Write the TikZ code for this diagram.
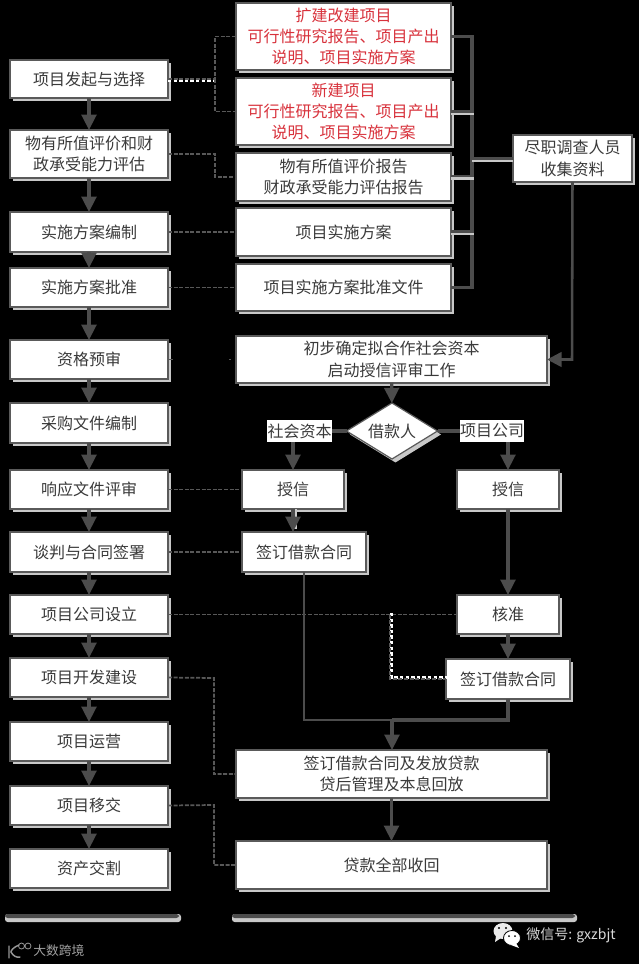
\documentclass[tikz,border=0pt]{standalone}
\usepackage{fontspec}
\setmainfont{Noto Sans CJK SC}
\usetikzlibrary{arrows.meta,shapes.geometric,shadows}
\tikzset{
  x=0.75pt,y=-0.75pt,
  flowbox/.style={draw=boxedge,line width=0.9pt,fill=white,inner sep=0pt,outer sep=0pt,align=center,text=boxtext,
    font=\fontsize{12}{16}\selectfont,
    copy shadow={shadow xshift=2.6pt,shadow yshift=-2.6pt,fill=shadowgrey,draw=none}},
  tagbox/.style={fill=white,inner sep=0pt,outer sep=0pt,text=boxtext,font=\fontsize{12}{16}\selectfont},
  flowline/.style={draw=linegrey,line width=2.4pt},
  flowarrow/.style={flowline,-{Triangle[length=11.5pt,width=11pt]}},
  thinline/.style={draw=linegrey,line width=1.9pt},
  linkdash/.style={draw=dashgrey,line width=1.3pt,dash pattern=on 3pt off 1.2pt},
  glow/.style={draw=shadowgrey,line width=1.8pt},
  whitedots/.style={draw=white,line width=2pt,dash pattern=on 2.6pt off 1.6pt},
  redtext/.style={text=redink},
}
\definecolor{boxedge}{HTML}{5A5A5A}
\definecolor{boxtext}{HTML}{3A3A3A}
\definecolor{shadowgrey}{HTML}{C8C8C8}
\definecolor{linegrey}{HTML}{4C4C4C}
\definecolor{dashgrey}{HTML}{585858}
\definecolor{redink}{HTML}{D8323C}
\newcommand{\boxat}[7][]{\node[flowbox,#1,minimum width={(#5-#3)*0.75pt},minimum height={(#6-#4)*0.75pt}] (#2) at ({(#3+#5)/2},{(#4+#6)/2}) {#7};}
\begin{document}
\begin{tikzpicture}
\fill[black] (0,0) rectangle (639,964);
\useasboundingbox (0,0) rectangle (639,964);
% left column
\boxat{La}{10}{60}{168}{98}{项目发起与选择}
\boxat{Lb}{10}{130}{168}{178}{物有所值评价和财\\政承受能力评估}
\boxat{Lc}{10}{212}{168}{252}{实施方案编制}
\boxat{Ld}{10}{268}{168}{307}{实施方案批准}
\boxat{Le}{10}{340}{168}{379}{资格预审}
\boxat{Lf}{10}{403}{168}{443}{采购文件编制}
\boxat{Lg}{10}{470}{168}{509}{响应文件评审}
\boxat{Lh}{10}{532}{168}{572}{谈判与合同签署}
\boxat{Li}{10}{595}{168}{634}{项目公司设立}
\boxat{Lj}{10}{658}{168}{697}{项目开发建设}
\boxat{Lk}{10}{722}{168}{761}{项目运营}
\boxat{Ll}{10}{786}{168}{825}{项目移交}
\boxat{Lm}{10}{849}{168}{888}{资产交割}
% right documents
\boxat[redtext]{Ra}{236}{3}{451}{70}{扩建改建项目\\可行性研究报告、项目产出\\说明、项目实施方案}
\boxat[redtext]{Rb}{236}{78}{451}{145}{新建项目\\可行性研究报告、项目产出\\说明、项目实施方案}
\boxat{Rc}{236}{153}{451}{201}{物有所值评价报告\\财政承受能力评估报告}
\boxat{Rd}{236}{208}{451}{256}{项目实施方案}
\boxat{Re}{236}{264}{451}{311}{项目实施方案批准文件}
\boxat{Dd}{513}{135}{632}{182}{尽职调查人员\\收集资料}
\boxat{Rf}{236}{336}{547}{383}{初步确定拟合作社会资本\\启动授信评审工作}
\node[flowbox,diamond,aspect=1.625,minimum width=68.25pt,minimum height=42pt] (Bw) at (392,431) {借款人};
\node[tagbox,minimum width=48.75pt,minimum height=16.5pt] (Ts) at (299.5,431) {社会资本};
\node[tagbox,minimum width=48pt,minimum height=16.5pt] (Tp) at (492,431) {项目公司};
\boxat{Sa}{242}{470}{344}{509}{授信}
\boxat{Pa}{457}{470}{559}{509}{授信}
\boxat{Sb}{242}{532}{366}{572}{签订借款合同}
\boxat{Pb}{457}{595}{559}{634}{核准}
\boxat{Pc}{446}{659}{570}{699}{签订借款合同}
\boxat{Ln}{236}{750}{547}{798}{签订借款合同及发放贷款\\贷后管理及本息回放}
\boxat{Rp}{236}{841}{547}{889}{贷款全部收回}
% left column arrows
\draw[flowarrow] (La) -- (Lb);
\draw[flowarrow] (Lb) -- (Lc);
\draw[flowarrow] (Lc) -- (Ld);
\draw[flowarrow] (Ld) -- (Le);
\draw[flowarrow] (Le) -- (Lf);
\draw[flowarrow] (Lf) -- (Lg);
\draw[flowarrow] (Lg) -- (Lh);
\draw[flowarrow] (Lh) -- (Li);
\draw[flowarrow] (Li) -- (Lj);
\draw[flowarrow] (Lj) -- (Lk);
\draw[flowarrow] (Lk) -- (Ll);
\draw[flowarrow] (Ll) -- (Lm);
% dashed links
\coordinate (ja) at (215,81);
\draw[whitedots] ([yshift=-1.5pt]La.east) -- ([yshift=-1.5pt]La.east -| ja);
\draw[linkdash] (La.east) -- (La.east -| ja) |- (Ra.west);
\draw[linkdash] (La.east -| ja) |- (Rb.west);
\coordinate (jb) at (215,154);
\draw[linkdash] (Lb.east) -- (jb) |- (Rc.west);
\draw[linkdash] (Lc.east) -- (Rd.west);
\draw[linkdash] (Ld.east) -- (Re.west);
\draw[linkdash,dash pattern=on 4pt off 42pt on 1.5pt off 10pt] (Le.east) -- (Rf.west);
\draw[linkdash] (Lg.east) -- (Sa.west);
\draw[linkdash] (Lh.east) -- (Sb.west);
\draw[linkdash] (Li.east) -- (Pb.west);
\coordinate (ji) at (390,614.5);
\draw[whitedots,transform canvas={xshift=1.2pt,yshift=1.2pt}] (ji) |- (Pc.west);
\draw[linkdash] (ji) |- (Pc.west);
\coordinate (jj) at (214,678);
\draw[linkdash] (Lj.east) -- (jj) |- (Ln.west);
\coordinate (jl) at (214,805);
\draw[linkdash] (Ll.east) -- (jl) |- (Rp.west);
% collecting bracket
\coordinate (tr) at (472,160);
\draw[flowline] (Ra.east) -- (Ra.east -| tr) -- (Re.east -| tr) -- (Re.east);
\draw[flowline] (Rb.east) -- (Rb.east -| tr);
\draw[flowline] (Rc.east) -- (Rc.east -| tr);
\draw[flowline] (Rd.east) -- (Rd.east -| tr);
\draw[glow,transform canvas={yshift=-2pt}] (Rb.east) -- ++(23,0);
\draw[glow,transform canvas={yshift=-1.2pt}] (Rc.east) -- ++(23,0);
\draw[draw=shadowgrey,line width=0.9pt,transform canvas={yshift=-1.5pt}] (Rd.east) -- ++(23,0);
\draw[glow,line width=2.2pt,transform canvas={yshift=-1.6pt}] (Dd.west) -- (Dd.west -| tr);
\draw[flowline] (Dd.west) -- (Dd.west -| tr);
\coordinate (jd) at (572,359.5);
\draw[thinline,-{Triangle[length=11pt,width=11pt]}] (Dd.south) -- (jd) -- (Rf.east);
% middle flow
\draw[flowarrow] (Rf) -- (Bw);
\draw[flowline] (Bw.west) -- (Ts.east);
\draw[flowline] (Bw.east) -- (Tp.west);
\draw[flowarrow] (Sa.north |- Ts.south) -- (Sa.north);
\draw[flowarrow] (Pa.north |- Tp.south) -- (Pa.north);
\draw[draw=shadowgrey,line width=2.2pt,transform canvas={xshift=2.2pt}] (Sa.south) -- ++(0,20);
\draw[flowarrow] (Sa.south) -- (Sa.south |- Sb.north);
\draw[flowarrow] (Pa) -- (Pb);
\draw[flowarrow] (Pb) -- (Pc.north -| Pb);
\coordinate (jm) at (392,720);
\draw[thinline,line width=1.6pt] (Sb.south) |- (jm);
\draw[flowline] (Pc.south) |- (jm);
\draw[flowarrow] (jm) -- (Ln.north -| jm);
\draw[flowarrow] (Ln) -- (Rp);
% base rules
\fill[shadowgrey,rounded corners=2pt] (5,914) rectangle (181,922);
\fill[linegrey,rounded corners=2pt] (5,914) rectangle (179,918);
\fill[shadowgrey,rounded corners=2pt] (232,914) rectangle (577,922);
\fill[linegrey,rounded corners=2pt] (232,914) rectangle (575,918);
% watermarks
\draw[draw=shadowgrey!75!black,line width=1.1pt,line cap=round] (9,946) -- (9,958) (19,945) .. controls (12,948) and (11,951) .. (11,952) .. controls (13,956) and (17,958) .. (20,957);
\draw[draw=shadowgrey!75!black,line width=0.6pt] (21.5,946) circle[radius=3] (28,946) circle[radius=3];
\node[anchor=west,inner sep=0pt,text=shadowgrey!80!black,font=\fontsize{9.6}{11}\selectfont] (wa) at (33,951) {大数跨境};
\fill[white!92!black] (503,931) ellipse[x radius=9.5,y radius=8];
\fill[white!92!black] (496,936) -- (495,942) -- (501,938) -- cycle;
\fill[black] (499,928) circle[radius=1.2] (506,928) circle[radius=1.2];
\filldraw[fill=white,draw=black,line width=0.6pt] (512,938) ellipse[x radius=8.5,y radius=7.5];
\fill[white] (516,943) -- (519,948) -- (511,945) -- cycle;
\fill[black] (509,936) circle[radius=1] (515,936) circle[radius=1];
\node[anchor=west,inner sep=0pt,text=white!85!black,font=\fontsize{10.5}{12}\selectfont] (wb) at (526,935) {微信号: gxzbjt};
\end{tikzpicture}
\end{document}
